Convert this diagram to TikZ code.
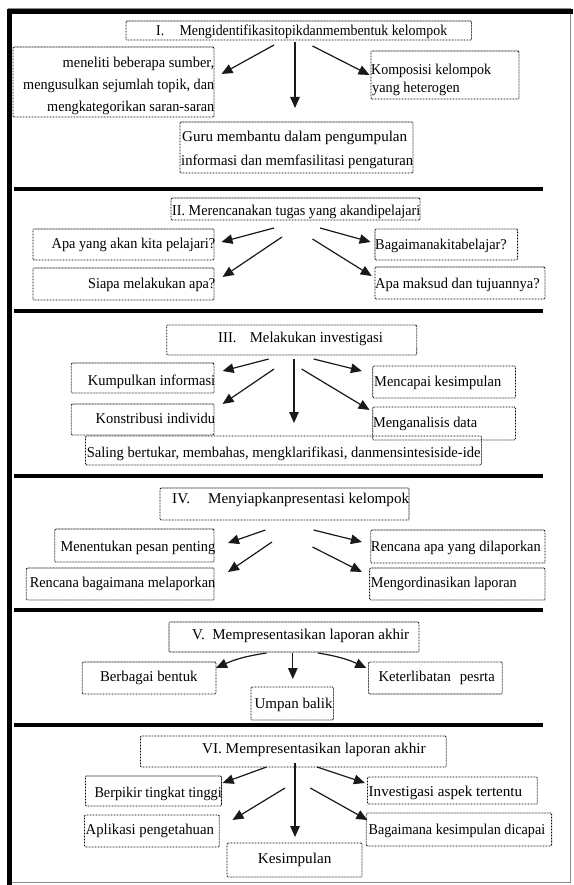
\documentclass[tikz,border=0pt]{standalone}
\usepackage{fontspec}
\setmainfont{Liberation Serif}
\usetikzlibrary{arrows.meta,fit}
\tikzset{
  bx/.style={draw=black,line width=0.8pt,dash pattern=on 0.8pt off 0.7pt,inner sep=0pt,rounded corners=1pt},
  tx/.style={inner sep=0pt,font=\fontsize{15}{18}\selectfont,text=black},
  arr/.style={draw=black!90,line width=1.2pt,-{Triangle[length=11pt,width=9.5pt]}},
  sep/.style={line width=4pt,black},
}
\newcommand\mybox[5]{\node[bx,fit={(#2,#3) (#4,#5)}] (#1) {};}
\newcommand\mytext[5]{\node[tx,anchor=base west] (#1) at (#2,#4) {\resizebox{\dimexpr #3pt-#2pt\relax}{\height}{#5}};}
\newcommand\myarr[5]{\coordinate (#1-s) at (#2,#3); \coordinate (#1-e) at (#4,#5); \draw[arr] (#1-s) -- (#1-e);}
\begin{document}
\begin{tikzpicture}[x=1pt,y=-1pt]
\useasboundingbox (0,0) rectangle (573,885);
\fill[white] (0,0) rectangle (573,885);
% frame
\draw[black!45,line width=0.8pt] (8,8) rectangle (570,882);
\draw[black,line width=5pt] (7,11.5) -- (573,11.5);
\draw[black,line width=5pt] (9.5,9) -- (9.5,885);
% separators
\coordinate (s1a) at (14,189); \coordinate (s1b) at (543,189);
\coordinate (s2a) at (14,311); \coordinate (s2b) at (543,311);
\coordinate (s3a) at (14,476); \coordinate (s3b) at (543,476);
\coordinate (s4a) at (14,610); \coordinate (s4b) at (543,610);
\coordinate (s5a) at (14,725); \coordinate (s5b) at (543,725);
\draw[sep] (s1a) -- (s1b);
\draw[sep] (s2a) -- (s2b);
\draw[sep] (s3a) -- (s3b);
\draw[sep] (s4a) -- (s4b);
\draw[sep] (s5a) -- (s5b);

% ---------- Section I
\mybox{b1}{126}{21}{471.5}{40}
\mybox{b1l}{13}{47}{214}{117}
\mybox{b1r}{371}{51}{519}{99}
\mybox{b1b}{180}{122}{413}{173}
\mytext{t1}{156}{447}{36}{I.\hspace{1.1em}Mengidentifikasitopikdanmembentuk kelompok}
\mytext{t1la}{62.5}{214}{68}{meneliti beberapa sumber,}
\mytext{t1lb}{23}{214}{90}{mengusulkan sejumlah topik, dan}
\mytext{t1lc}{47}{214}{112}{mengkategorikan saran-saran}
\mytext{t1ra}{371}{491}{75}{Komposisi kelompok}
\mytext{t1rb}{372}{459.5}{93}{yang heterogen}
\mytext{t1ba}{182}{407}{142}{Guru membantu dalam pengumpulan}
\mytext{t1bb}{181}{413}{166}{informasi dan memfasilitasi pengaturan}
\myarr{a11}{274}{45}{221.5}{74}
\myarr{a12}{295}{42}{295}{108}
\myarr{a13}{312.5}{46}{369.5}{75}

% ---------- Section II
\mybox{b2}{171}{198}{420}{220}
\mybox{b2a}{33}{229}{214}{260}
\mybox{b2b}{33}{268}{214}{300}
\mybox{b2c}{375}{229}{517.6}{260}
\mybox{b2d}{375}{267}{545}{299}
\mytext{t2}{172}{420}{215}{II. Merencanakan tugas yang akandipelajari}
\mytext{t2a}{51.5}{215}{248}{Apa yang akan kita pelajari?}
\mytext{t2b}{88}{215}{288}{Siapa melakukan apa?}
\mytext{t2c}{375}{506.6}{249}{Bagaimanakitabelajar?}
\mytext{t2d}{375}{539.5}{288}{Apa maksud dan tujuannya?}
\myarr{a21}{274}{228}{221.5}{242}
\myarr{a22}{282}{237}{222.6}{277}
\myarr{a23}{320}{228}{370.6}{242}
\myarr{a24}{312.5}{239}{371.7}{276}

% ---------- Section III
\mybox{b3}{166.7}{325}{416.7}{355}
\mybox{b3a}{71.3}{363}{214}{393}
\mybox{b3b}{71.3}{404}{214}{435}
\mybox{b3c}{372.8}{366}{515.4}{398}
\mybox{b3d}{372.8}{407}{515.4}{440}
\mybox{b3e}{85.5}{436}{481.4}{465}
\mytext{t3}{218}{382.7}{342}{III.\hspace{0.9em}Melakukan investigasi}
\mytext{t3a}{87.7}{215}{385}{Kumpulkan informasi}
\mytext{t3b}{95.4}{215}{423}{Konstribusi individu}
\mytext{t3c}{374}{501}{386}{Mencapai kesimpulan}
\mytext{t3d}{372.8}{477}{427}{Menganalisis data}
\mytext{t3e}{86.6}{480.3}{457}{Saling bertukar, membahas, mengklarifikasi, danmensintesiside-ide}
\myarr{a31}{268.7}{359}{222.6}{371}
\myarr{a32}{274}{369}{222.6}{404}
\myarr{a33}{294}{359}{294}{423}
\myarr{a34}{313.6}{359}{361.9}{371}
\myarr{a35}{301.6}{369}{369.6}{410}

% ---------- Section IV
\mybox{b4}{160}{488}{409}{520}
\mybox{b4a}{54.8}{529}{214}{562}
\mybox{b4b}{26.3}{568}{214}{600}
\mybox{b4c}{370.7}{530}{545}{563}
\mybox{b4d}{369.6}{568}{545}{600}
\mytext{t4}{172}{409}{503}{IV.\hspace{1.2em}Menyiapkanpresentasi kelompok}
\mytext{t4a}{60.3}{215}{551}{Menentukan pesan penting}
\mytext{t4b}{29.6}{215}{587}{Rencana bagaimana melaporkan}
\mytext{t4c}{370.7}{540.6}{551}{Rencana apa yang dilaporkan}
\mytext{t4d}{370.7}{516.5}{587}{Mengordinasikan laporan}
\myarr{a41}{265.4}{530}{228}{543}
\myarr{a42}{272}{542}{228}{572}
\myarr{a43}{313.6}{530}{361.9}{542}
\myarr{a44}{312.5}{547}{361.9}{572}

% ---------- Section V
\mybox{b5}{168.9}{622}{419}{652}
\mybox{b5a}{82.2}{662}{216}{694}
\mybox{b5b}{368.5}{662}{502.2}{694}
\mybox{b5c}{251}{687}{333.4}{720}
\mytext{t5}{192}{409}{639}{V.\hspace{0.5em}Mempresentasikan laporan akhir}
\mytext{t5a}{99.8}{197.4}{681}{Berbagai bentuk}
\mytext{t5b}{378.3}{494.6}{681}{Keterlibatan\hspace{0.6em}pesrta}
\mytext{t5c}{254.4}{332.3}{708}{Umpan balik}
\coordinate (a51-s) at (266.5,653); \coordinate (a51-e) at (216,668);
\draw[arr] (a51-s) to[bend right=8] (a51-e);
\myarr{a52}{292.8}{653}{292.8}{679}
\coordinate (a53-s) at (318,653); \coordinate (a53-e) at (366.3,668);
\draw[arr] (a53-s) to[bend left=8] (a53-e);

% ---------- Section VI
\mybox{b6}{140.4}{736}{446.3}{767}
\mybox{b6a}{85.5}{776}{221.5}{806}
\mybox{b6b}{84.4}{815}{219.3}{847}
\mybox{b6c}{367.4}{777}{537.3}{804}
\mybox{b6d}{366.3}{813}{551.6}{846}
\mybox{b6e}{227}{843}{361.9}{877}
\mytext{t6}{201.8}{425.5}{753}{VI. Mempresentasikan laporan akhir}
\mytext{t6a}{94.3}{221.5}{797}{Berpikir tingkat tinggi}
\mytext{t6b}{85.5}{213.8}{834}{Aplikasi pengetahuan}
\mytext{t6c}{368.5}{522}{796}{Investigasi aspek tertentu}
\mytext{t6d}{368.5}{545}{834}{Bagaimana kesimpulan dicapai}
\mytext{t6e}{257.7}{331.2}{863}{Kesimpulan}
\myarr{a61}{266.5}{767}{222.6}{783}
\myarr{a62}{285}{788}{232.5}{820}
\myarr{a63}{295}{763}{295}{837}
\myarr{a64}{317}{767}{365}{783}
\myarr{a65}{310.3}{788}{367.4}{820}
\end{tikzpicture}
\end{document}
